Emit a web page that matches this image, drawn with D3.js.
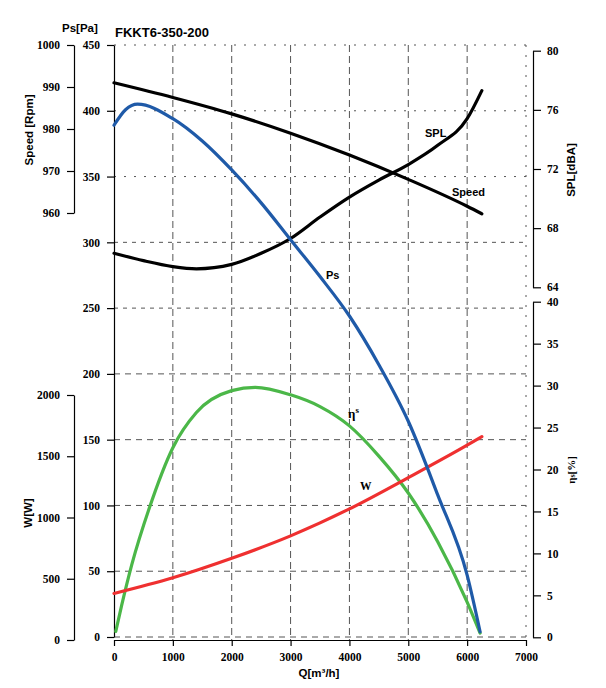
<!DOCTYPE html>
<html>
<head>
<meta charset="utf-8">
<script src="https://cdn.jsdelivr.net/npm/d3@7"></script>
<style>
  body { margin: 0; background: #fff; }
  .tick text { font-family: "Liberation Serif", serif; font-weight: bold; font-size: 11.5px; fill: #000; }
  .lbl { font-family: "Liberation Sans", Arial, sans-serif; font-weight: bold; font-size: 11.5px; fill: #000; }
  .ser { font-family: "Liberation Serif", serif; font-weight: bold; fill: #000; }
</style>
</head>
<body>
<script>
// fan curve data
var qPs = [0, 200, 400, 1000, 1500, 2000, 2500, 3000, 3500, 4000, 4500, 5000, 5500, 6000, 6220];
var psVals = [389, 401, 405, 394, 377, 355, 330, 302, 274, 244, 207, 164, 108, 47, 4];

var qSpeed = [0, 1000, 2000, 3000, 4000, 5000, 6000, 6250];
var speedVals = [991.0, 987.5, 983.6, 979.0, 973.8, 968.0, 961.6, 959.8];

var qSpl = [0, 500, 1000, 1400, 2000, 2500, 3000, 3500, 4000, 4500, 5000, 5500, 6000, 6250];
var splVals = [66.3, 65.8, 65.4, 65.25, 65.55, 66.3, 67.3, 68.75, 70.1, 71.25, 72.3, 73.6, 75.4, 77.3];

var qW = [0, 1000, 2000, 3000, 4000, 5000, 6000, 6250];
var wVals = [380, 508, 667, 850, 1070, 1325, 1590, 1660];

var qEta = [30, 130, 300, 600, 1000, 1400, 2000, 2400, 3000, 3500, 4000, 4500, 5000, 5500, 6000, 6220];
var etaVals = [0.7, 3.8, 8.6, 15.4, 22.6, 26.8, 29.4, 29.8, 28.9, 27.5, 25.2, 21.6, 17.2, 11.4, 4.2, 0.5];

// tick values
var qTicks = [0, 1000, 2000, 3000, 4000, 5000, 6000, 7000];
var psTicks = [0, 50, 100, 150, 200, 250, 300, 350, 400, 450];
var speedTicks = [960, 970, 980, 990, 1000];
var wTicks = [0, 500, 1000, 1500, 2000];
var splTicks = [64, 68, 72, 76, 80];
var etaTicks = [0, 5, 10, 15, 20, 25, 30, 35, 40];

var width = 606, height = 688;

var svg = d3.select("body").append("svg")
    .attr("width", width)
    .attr("height", height);

// scales, all in page pixels
var x = d3.scaleLinear().domain([0, 7000]).range([114, 526]);
var yPs = d3.scaleLinear().domain([0, 450]).range([637, 45]);
var ySpeed = d3.scaleLinear().domain([960, 1000]).range([213, 45]);
var yW = d3.scaleLinear().domain([0, 2000]).range([640, 395]);
var ySpl = d3.scaleLinear().domain([64, 80]).range([287.3, 50.7]);
var yEta = d3.scaleLinear().domain([0, 40]).range([637.3, 301.7]);

// grid
var grid = svg.append("g").attr("stroke", "#555").attr("stroke-width", 1).attr("fill", "none");
grid.selectAll(".hgrid")
    .data(psTicks)
    .enter().append("line")
    .attr("x1", x(0)).attr("x2", x(7000))
    .attr("y1", function(d){ return yPs(d); })
    .attr("y2", function(d){ return yPs(d); })
    .attr("stroke-dasharray", function(d){
        if (d >= 350) return "2,8";
        if (d >= 250) return "4,5";
        return "6,5";
    });
grid.selectAll(".vgrid")
    .data(qTicks.slice(1))
    .enter().append("line")
    .attr("x1", function(d){ return x(d); })
    .attr("x2", function(d){ return x(d); })
    .attr("y1", yPs(450)).attr("y2", yW(0))
    .attr("stroke-dasharray", function(d){ return d == 7000 ? "2,8" : "7,4"; });

// axes helper: major + minor ticks
function drawAxis(axisFn, scale, major, minor, tx, ty, size, pad) {
    var g = svg.append("g").attr("transform", "translate(" + tx + "," + ty + ")");
    g.call(axisFn(scale).tickValues(minor).tickSize(size - 3).tickSizeOuter(0).tickFormat(""));
    g.call(axisFn(scale).tickValues(major).tickSize(size).tickSizeOuter(0)
        .tickPadding(pad).tickFormat(d3.format("d")));
    g.selectAll("path, line").attr("stroke", "#000").attr("stroke-width", 1.2);
    g.selectAll("text").attr("font-family", null).attr("font-size", null);
    return g;
}

drawAxis(d3.axisLeft, yPs, psTicks, d3.range(25, 450, 50), 114, 0, 7, 7);
drawAxis(d3.axisLeft, ySpeed, speedTicks, d3.range(965, 1000, 10), 74, 0, 7, 7);
drawAxis(d3.axisLeft, yW, wTicks, d3.range(250, 2000, 500), 74, 0, 7, 7);
drawAxis(d3.axisBottom, x, qTicks, d3.range(500, 7000, 1000), 0, 640, 6, 7);
drawAxis(d3.axisRight, ySpl, splTicks, d3.range(66, 80, 4), 533, 0, 8, 6);
drawAxis(d3.axisRight, yEta, etaTicks, d3.range(2.5, 40, 5), 533, 0, 8, 6);

// curves
function curve(qs, vals, yScale, color) {
    var pts = qs.map(function(q, i){ return [x(q), yScale(vals[i])]; });
    svg.append("path")
        .attr("d", d3.line().curve(d3.curveMonotoneX)(pts))
        .attr("fill", "none")
        .attr("stroke", color)
        .attr("stroke-width", 3.2)
        .attr("stroke-linecap", "round");
}
curve(qSpeed, speedVals, ySpeed, "#000");
curve(qSpl, splVals, ySpl, "#000");
curve(qEta, etaVals, yEta, "#4bb748");
curve(qW, wVals, yW, "#ef3030");
curve(qPs, psVals, yPs, "#1f5aa8");

// titles and labels
svg.append("text").attr("class", "lbl").attr("x", 115).attr("y", 37)
    .style("font-size", "13px").text("FKKT6-350-200");
svg.append("text").attr("class", "lbl").attr("x", 62).attr("y", 32).text("Ps[Pa]");
svg.append("text").attr("class", "lbl").attr("text-anchor", "middle")
    .attr("transform", "translate(33,130) rotate(-90)").text("Speed [Rpm]");
svg.append("text").attr("class", "lbl").attr("text-anchor", "middle")
    .attr("transform", "translate(32,513) rotate(-90)").text("W[W]");
svg.append("text").attr("class", "lbl").attr("text-anchor", "middle")
    .attr("transform", "translate(575,170) rotate(-90)").text("SPL[dBA]");
var etaLbl = svg.append("text").attr("class", "ser").attr("text-anchor", "middle")
    .attr("transform", "translate(575,470) rotate(-90)").style("font-size", "11px");
etaLbl.append("tspan").text("η");
etaLbl.append("tspan").attr("font-size", "8px").text("s");
etaLbl.append("tspan").text("[%]");
svg.append("text").attr("class", "lbl").attr("x", 319).attr("y", 677)
    .attr("text-anchor", "middle").text("Q[m³/h]");

// curve names
svg.append("text").attr("class", "lbl").attr("x", 425).attr("y", 137).style("font-size", "11px").text("SPL");
svg.append("text").attr("class", "lbl").attr("x", 452).attr("y", 196).style("font-size", "11px").text("Speed");
svg.append("text").attr("class", "lbl").attr("x", 326).attr("y", 279).style("font-size", "11px").text("Ps");
var etaName = svg.append("text").attr("class", "ser").attr("x", 348).attr("y", 418).style("font-size", "13px");
etaName.append("tspan").text("η");
etaName.append("tspan").attr("font-size", "9px").attr("dy", -5).text("s");
svg.append("text").attr("class", "ser").attr("x", 360).attr("y", 490).style("font-size", "11.5px").text("W");
</script>
</body>
</html>
